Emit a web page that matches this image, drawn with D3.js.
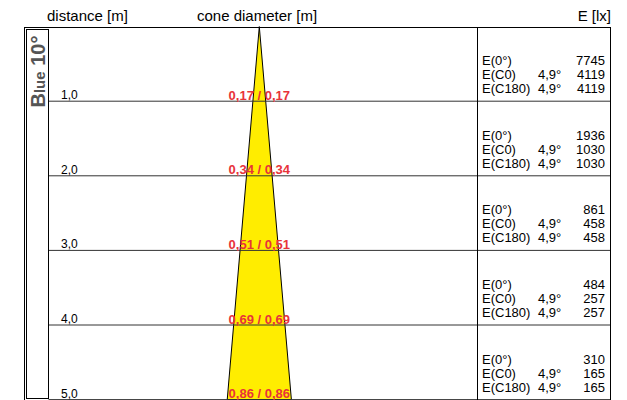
<!DOCTYPE html>
<html><head><meta charset="utf-8">
<script src="https://cdn.jsdelivr.net/npm/d3@7"></script>
<style>
html,body{margin:0;padding:0;background:#fff;}
svg{display:block;font-family:"Liberation Sans",Arial,sans-serif;}
</style></head>
<body>
<svg id="c" width="627" height="400"></svg>
<script>
const distances = [1, 2, 3, 4, 5];
const distanceLabels = ["1,0", "2,0", "3,0", "4,0", "5,0"];
const diameterLabels = ["0,17 / 0,17", "0,34 / 0,34", "0,51 / 0,51", "0,69 / 0,69", "0,86 / 0,86"];
const diameters = [0.17, 0.34, 0.51, 0.69, 0.86];
const e0 = [7745, 1936, 861, 484, 310];
const eC0 = [4119, 1030, 458, 257, 165];
const eC180 = [4119, 1030, 458, 257, 165];
const angleLabel = "4,9°";
const headers = ["distance [m]", "cone diameter [m]", "E [lx]"];

const svg = d3.select("#c");
const y = d3.scaleLinear().domain([0, 5]).range([26.6, 399.6]);
const pxPerM = y(1) - y(0);
const cx = 259.3;
const x = d3.scaleLinear().domain([-1, 1]).range([cx - pxPerM, cx + pxPerM]);

const frameL = 24.5, frameR = 610.5, frameT = 27.5, frameB = 400, colE = 477.5;
const stripL = 26.5, stripR = 48.5;

// headers
svg.append("text").attr("x", 47).attr("y", 21).attr("font-size", 15).attr("fill", "#000").text(headers[0]);
svg.append("text").attr("x", 197).attr("y", 21).attr("font-size", 15).attr("fill", "#000").text(headers[1]);
svg.append("text").attr("x", 611).attr("y", 21).attr("font-size", 15).attr("text-anchor", "end").attr("fill", "#000").text(headers[2]);

// cone
const last = diameters.length - 1;
const conePts = [[x(0), y(0)], [x(-diameters[last] / 2), y(distances[last])], [x(diameters[last] / 2), y(distances[last])]];
svg.append("path")
  .attr("d", d3.line()(conePts) + "Z")
  .attr("fill", "#ffed00").attr("stroke", "#000").attr("stroke-width", 1);

// row lines
svg.selectAll("line.row").data(distances).join("line")
  .attr("class", "row")
  .attr("x1", stripR).attr("x2", frameR)
  .attr("y1", d => y(d)).attr("y2", d => y(d))
  .attr("stroke", "#333").attr("stroke-width", 1);

// frame
const frame = svg.append("g").attr("stroke", "#000").attr("stroke-width", 1).attr("fill", "none");
frame.append("line").attr("x1", frameL - 0.5).attr("x2", frameR + 0.5).attr("y1", frameT).attr("y2", frameT);
frame.append("line").attr("x1", frameL).attr("x2", frameL).attr("y1", frameT).attr("y2", frameB);
frame.append("line").attr("x1", frameR).attr("x2", frameR).attr("y1", frameT).attr("y2", frameB);
frame.append("line").attr("x1", colE).attr("x2", colE).attr("y1", frameT).attr("y2", frameB);
frame.append("rect").attr("x", stripL).attr("y", 29.5).attr("width", stripR - stripL).attr("height", 398.5 - 29.5);

// strip label
const lbl = svg.append("text")
  .attr("transform", "translate(44.5,107.5) rotate(-90)")
  .attr("font-weight", "bold").attr("fill", "#555");
lbl.append("tspan").attr("font-size", 20).text("B");
lbl.append("tspan").attr("font-size", 15).text("lue");
lbl.append("tspan").attr("font-size", 20).text(" 10°");

// distance labels
svg.selectAll("text.dist").data(distances).join("text")
  .attr("class", "dist")
  .attr("x", 61).attr("y", d => y(d) - 2)
  .attr("font-size", 12).attr("fill", "#000")
  .text((d, i) => distanceLabels[i]);

// diameter labels
svg.selectAll("text.dia").data(distances).join("text")
  .attr("class", "dia")
  .attr("x", cx).attr("y", d => y(d) - 1.5)
  .attr("text-anchor", "middle")
  .attr("font-size", 13).attr("font-weight", "bold").attr("fill", "#e8333a")
  .text((d, i) => diameterLabels[i]);

// illuminance block
const g = svg.selectAll("g.e").data(distances).join("g").attr("class", "e");
const rows = [
  {name: "E(0°)", angle: "", vals: e0, dy: -36},
  {name: "E(C0)", angle: angleLabel, vals: eC0, dy: -22},
  {name: "E(C180)", angle: angleLabel, vals: eC180, dy: -8}
];
rows.forEach(r => {
  g.append("text").attr("x", 482).attr("y", d => y(d) + r.dy).attr("font-size", 13).attr("fill", "#000").text(r.name);
  g.append("text").attr("x", 538).attr("y", d => y(d) + r.dy).attr("font-size", 13).attr("fill", "#000").text(r.angle);
  g.append("text").attr("x", 605).attr("y", d => y(d) + r.dy).attr("font-size", 13).attr("text-anchor", "end").attr("fill", "#000")
    .text((d, i) => r.vals[i]);
});
</script>
</body></html>
